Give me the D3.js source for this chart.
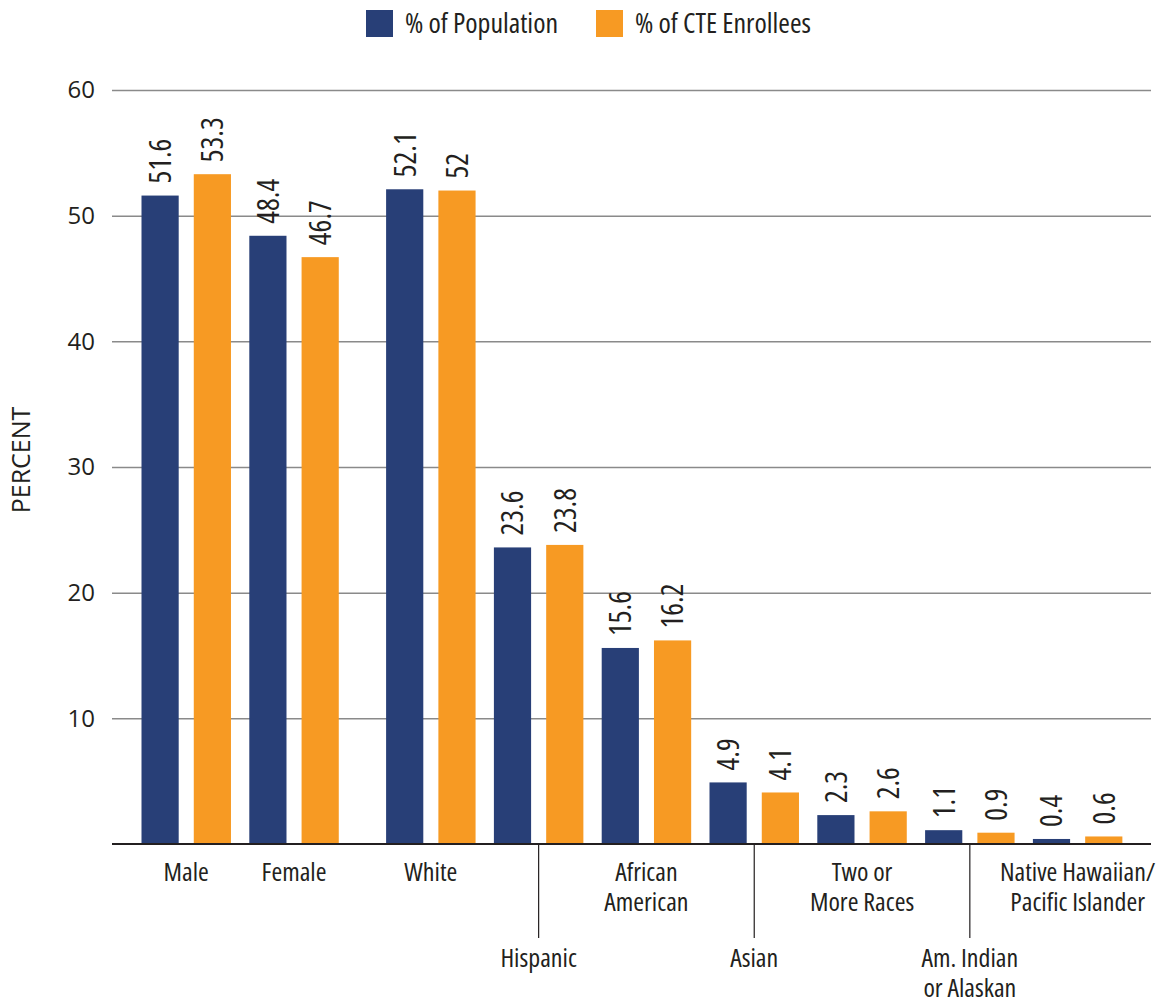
<!DOCTYPE html>
<html>
<head>
<meta charset="utf-8">
<script src="https://cdn.jsdelivr.net/npm/d3@7/dist/d3.min.js"></script>
<style>
  body { margin: 0; background: #fff; }
  text { font-family: "Open Sans", "DejaVu Sans Condensed", sans-serif; font-stretch: 75%; font-weight: 380; fill: #231f20; }
</style>
</head>
<body>
<div id="chart"></div>
<script>
// data
const categories = ['Male', 'Female', 'White', 'Hispanic', 'African American', 'Asian',
    'Two or More Races', 'Am. Indian or Alaskan', 'Native Hawaiian/Pacific Islander'];
const labelLines = [['Male'], ['Female'], ['White'], ['Hispanic'], ['African', 'American'], ['Asian'],
    ['Two or', 'More Races'], ['Am. Indian', 'or Alaskan'], ['Native Hawaiian/', 'Pacific Islander']];
const lowLabel = [false, false, false, true, false, true, false, true, false];
const population = [51.6, 48.4, 52.1, 23.6, 15.6, 4.9, 2.3, 1.1, 0.4];
const enrollees = [53.3, 46.7, 52, 23.8, 16.2, 4.1, 2.6, 0.9, 0.6];
const seriesNames = ['% of Population', '% of CTE Enrollees'];
const yTicks = [10, 20, 30, 40, 50, 60];

const width = 1169;
const height = 1006;
const colors = ['#283f77', '#f79a23'];

const svg = d3.select('#chart')
    .append('svg')
    .attr('width', width)
    .attr('height', height);

const step = 107.8;
const groupGap = 29;   // extra space between gender and race groups
const x0 = d3.scaleBand()
    .domain(categories)
    .range([141.5, 141.5 + step * (categories.length - 0.17)])
    .paddingInner(0.17)
    .paddingOuter(0);
const groupX = (c, i) => x0(c) + (i >= 2 ? groupGap : 0);

const x1 = d3.scaleBand()
    .domain([0, 1])
    .range([0, x0.bandwidth()])
    .paddingInner(0.2885);

const y = d3.scaleLinear()
    .domain([0, 60])
    .range([844, 90]);

// gridlines
const yGrid = d3.axisLeft(y)
    .tickValues(yTicks)
    .tickSize(-(1151 - 112))
    .tickFormat(d => d)
    .tickPadding(17);

svg.append('g')
    .classed('gridline', true)
    .attr('transform', 'translate(112,0)')
    .call(yGrid)
    .call(g => g.select('.domain').remove())
    .call(g => g.selectAll('.tick line').attr('stroke', '#8a8a8a').attr('stroke-width', 1.5))
    .call(g => g.selectAll('.tick text')
        .style('font-size', '24px')
        .style('font-stretch', '100%')
        .attr('fill', '#231f20'));

// bars
const rows = categories.map((c, i) => ({ cat: c, i: i, values: [population[i], enrollees[i]] }));

const groups = svg.selectAll('.group')
    .data(rows)
    .enter()
    .append('g')
    .classed('group', true)
    .attr('transform', d => `translate(${groupX(d.cat, d.i)},0)`);

groups.selectAll('rect')
    .data(d => d.values.map((v, k) => ({ v: v, k: k })))
    .enter()
    .append('rect')
    .attr('x', d => x1(d.k))
    .attr('y', d => y(d.v))
    .attr('width', x1.bandwidth())
    .attr('height', d => y(0) - y(d.v))
    .style('fill', d => colors[d.k]);

groups.selectAll('.value')
    .data(d => d.values.map((v, k) => ({ v: v, k: k })))
    .enter()
    .append('text')
    .classed('value', true)
    .attr('transform', d => `translate(${x1(d.k) + x1.bandwidth() / 2},${y(d.v) - 12}) rotate(-90)`)
    .attr('dy', '0.36em')
    .style('font-size', '30px')
    .text(d => d.v);

// baseline
svg.append('line')
    .attr('x1', 112).attr('x2', 1151)
    .attr('y1', y(0)).attr('y2', y(0))
    .attr('stroke', '#231f20')
    .attr('stroke-width', 2);

// category labels
groups.each(function (d) {
    const g = d3.select(this);
    const cx = x0.bandwidth() / 2;
    const low = lowLabel[d.i];
    if (low) {
        g.append('line')
            .attr('x1', cx).attr('x2', cx)
            .attr('y1', y(0)).attr('y2', 938)
            .attr('stroke', '#231f20')
            .attr('stroke-width', 1.2);
    }
    const t = g.append('text')
        .attr('x', cx)
        .attr('y', low ? 967 : 881)
        .style('font-size', '26px')
        .style('text-anchor', 'middle');
    labelLines[d.i].forEach((line, j) => {
        t.append('tspan')
            .attr('x', cx)
            .attr('dy', j === 0 ? 0 : 30)
            .text(line);
    });
});

// y axis title
svg.append('text')
    .attr('transform', `translate(30,460) rotate(-90)`)
    .style('font-size', '25px')
    .style('font-stretch', '100%')
    .style('text-anchor', 'middle')
    .text('PERCENT');

// legend
const legendX = [366, 596];
const legend = svg.selectAll('.legend')
    .data(seriesNames)
    .enter()
    .append('g')
    .classed('legend', true)
    .attr('transform', (d, i) => `translate(${legendX[i]},10)`);

legend.append('rect')
    .attr('width', 27)
    .attr('height', 27)
    .style('fill', (d, i) => colors[i]);

legend.append('text')
    .attr('x', 39)
    .attr('y', 23)
    .style('font-size', '28px')
    .text(d => d);
</script>
</body>
</html>
